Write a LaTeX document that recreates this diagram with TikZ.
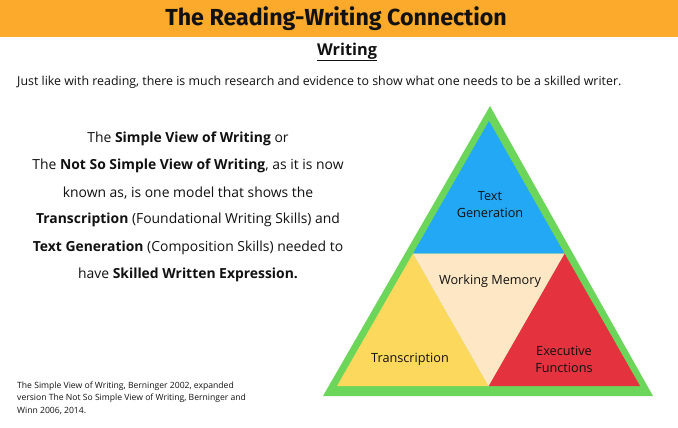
\documentclass[tikz,border=0pt]{standalone}
\usepackage{fontspec}
\setmainfont{Open Sans}
\newfontfamily\titlefont{Fira Sans}
\definecolor{hdr}{HTML}{FBAA2B}
\definecolor{tgreen}{HTML}{6BD65A}
\definecolor{tblue}{HTML}{23A8F6}
\definecolor{tyellow}{HTML}{FCD95C}
\definecolor{tbeige}{HTML}{FDE7C4}
\definecolor{tred}{HTML}{E5323F}
\definecolor{ink}{HTML}{111111}
\tikzset{
  para/.style={font=\fontsize{13.9}{16}\selectfont, text=ink, inner sep=0pt},
  foot/.style={font=\fontsize{8.6}{12.5}\selectfont, text=ink, align=left, inner sep=0pt, anchor=north west},
  tri/.style={font=\fontsize{12.7}{17}\selectfont, text=ink, align=center, inner sep=0pt},
}
\begin{document}
\begin{tikzpicture}[x=1pt,y=-1pt]
\useasboundingbox (0,0) rectangle (678,428);
\fill[white] (0,0) rectangle (678,428);
\fill[hdr] (0,0) rectangle (678,37);
\node[font=\titlefont\bfseries\fontsize{23.2}{26}\selectfont, text=ink, inner sep=0pt] (title) at (336,19) {The Reading-Writing Connection};
\node[font=\bfseries\fontsize{16.3}{18}\selectfont, text=ink, inner sep=0pt] (sub) at (347,52) {\underline{Writing}};
\node[font=\fontsize{12.4}{14}\selectfont, text=ink, inner sep=0pt, anchor=west] (intro) at (17,82) {Just like with reading, there is much research and evidence to show what one needs to be a skilled writer.};

\node[para] (l1) at (188,139) {The \textbf{Simple View of Writing} or};
\node[para] (l2) at (188,166) {The \textbf{Not So Simple View of Writing}, as it is now};
\node[para] (l3) at (188,193) {known as, is one model that shows the};
\node[para] (l4) at (188,220) {\textbf{Transcription} (Foundational Writing Skills) and};
\node[para] (l5) at (188,248) {\textbf{Text Generation} (Composition Skills) needed to};
\node[para] (l6) at (188,275) {have \textbf{Skilled Written Expression.}};

\node[foot] (fn) at (17,381.5) {The Simple View of Writing, Berninger 2002, expanded\\version The Not So Simple View of Writing, Berninger and\\Winn 2006, 2014.};

\coordinate (A) at (490,106);
\coordinate (B) at (323,396);
\coordinate (C) at (653,396);
\coordinate (a) at (489,121);
\coordinate (b) at (337,386);
\coordinate (c) at (640,386);
\coordinate (ab) at (413,253.5);
\coordinate (ac) at (564.5,253.5);
\coordinate (bc) at (488.5,386);
\fill[tgreen] (A) -- (B) -- (C) -- cycle;
\fill[tblue] (a) -- (ab) -- (ac) -- cycle;
\fill[tyellow] (ab) -- (b) -- (bc) -- cycle;
\fill[tred] (ac) -- (bc) -- (c) -- cycle;
\fill[tbeige] (ab) -- (ac) -- (bc) -- cycle;

\node[tri] (tg) at (490,204.5) {Text\\Generation};
\node[tri] (wm) at (490,281) {Working Memory};
\node[tri] (tr) at (410,359) {Transcription};
\node[tri] (ef) at (564,359.5) {Executive\\Functions};
\end{tikzpicture}
\end{document}
